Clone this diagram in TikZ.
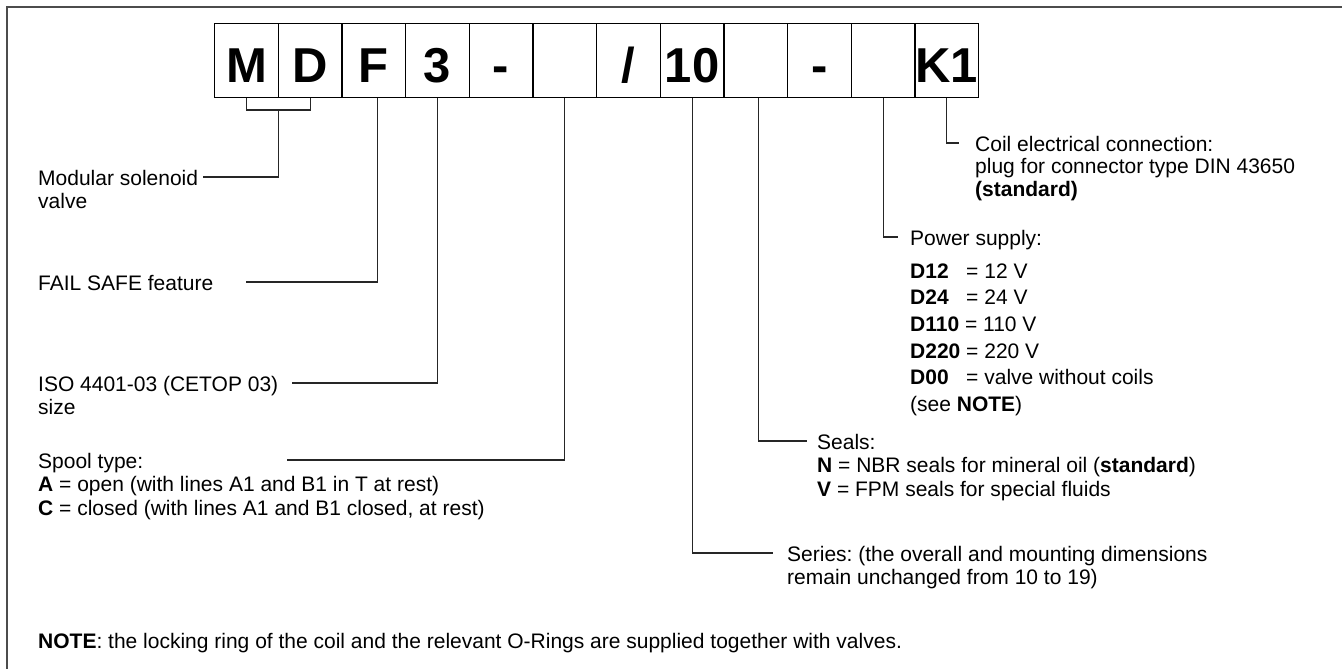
\documentclass[tikz,border=0pt]{standalone}
\usepackage{fontspec}
\setmainfont{Liberation Sans}
\usetikzlibrary{calc}
\frenchspacing
\newcommand{\pwcode}[1]{\makebox[50.2pt][l]{\textbf{#1}}}
\newcommand{\txtlines}[1]{\begin{tabular}[t]{@{}l@{}}#1\end{tabular}}
\begin{document}
\begin{tikzpicture}[x=1pt,y=-1pt,
  codebox/.style={draw=black, line width=1.2pt, minimum width=63.67pt, minimum height=74pt,
    inner sep=0pt, anchor=north west, font=\fontsize{49}{50}\selectfont\bfseries,
    text height=43.4pt, text depth=0pt},
  desc/.style={anchor=base west, inner sep=0pt, font=\fontsize{21}{23.5}\selectfont},
  conn/.style={line width=1.2pt, black!85}]
\useasboundingbox (0,0) rectangle (1342,669);
\draw[line width=2pt, black!70] (7,669) -- (7,7) -- (1342,7);

% code boxes
\node[codebox] (b1)  at (214,23)    {M};
\node[codebox] (b2)  at (277.67,23) {D};
\node[codebox] (b3)  at (341.33,23) {F};
\node[codebox] (b4)  at (405,23)    {3};
\node[codebox] (b5)  at (468.67,23) {-};
\node[codebox] (b6)  at (532.33,23) {};
\node[codebox] (b7)  at (596,23)    {/};
\node[codebox] (b8)  at (659.67,23) {10};
\node[codebox] (b9)  at (723.33,23) {};
\node[codebox] (b10) at (787,23)    {-};
\node[codebox] (b11) at (850.67,23) {};
\node[codebox] (b12) at (914.33,23) {K1};

% descriptions
\node[desc] (t1) at (38,185) {\txtlines{Modular solenoid\\valve}};
\node[desc] (t2) at (38,290) {FAIL SAFE feature};
\node[desc] (t3) at (38,391) {\txtlines{ISO 4401-03 (CETOP 03)\\size}};
\node[desc] (t4) at (38,468) {\txtlines{Spool type:\\\textbf{A} = open (with lines A1 and B1 in T at rest)\\\textbf{C} = closed (with lines A1 and B1 closed, at rest)}};
\node[desc] (t5) at (787,561) {\txtlines{Series: (the overall and mounting dimensions\\remain unchanged from 10 to 19)}};
\node[desc] (t6) at (817,449) {\txtlines{Seals:\\\textbf{N} = NBR seals for mineral oil (\textbf{standard})\\\textbf{V} = FPM seals for special fluids}};
\node[desc, font=\fontsize{21}{26.7}\selectfont] (t7) at (910,245) {\txtlines{Power supply:\\[6.3pt]
  \pwcode{D12} = 12 V\\
  \pwcode{D24} = 24 V\\
  \textbf{D110} = 110 V\\
  \textbf{D220} = 220 V\\
  \pwcode{D00} = valve without coils\\
  (see \textbf{NOTE})}};
\node[desc, font=\fontsize{21}{22.5}\selectfont] (t8) at (975,151) {\txtlines{Coil electrical connection:\\plug for connector type DIN 43650\\\textbf{(standard)}}};
\node[desc] (note) at (38,648) {\textbf{NOTE}: the locking ring of the coil and the relevant O-Rings are supplied together with valves.};

% connector ends
\coordinate (e1) at (203,177);
\coordinate (e2) at (246,282);
\coordinate (e3) at (292,383);
\coordinate (e4) at (287,460);
\coordinate (e5) at (773,553);
\coordinate (e6) at (807,441);
\coordinate (e7) at (898,237);
\coordinate (e8) at (959,143);

% connectors
\draw[conn] (b1.south) -- ++(0,11.7) -| (b2.south);
\coordinate (md) at ($(b1.south)!0.5!(b2.south) + (0,11.7)$);
\draw[conn] (md) |- (e1);
\draw[conn] ([xshift=3.5pt]b3.south) |- (e2);
\draw[conn] (b4.south) |- (e3);
\draw[conn] (b6.south) |- (e4);
\draw[conn] (b8.south) |- (e5);
\draw[conn] ([xshift=2.5pt]b9.south) |- (e6);
\draw[conn] (b11.south) |- (e7);
\draw[conn] (b12.south) |- (e8);
\end{tikzpicture}
\end{document}
